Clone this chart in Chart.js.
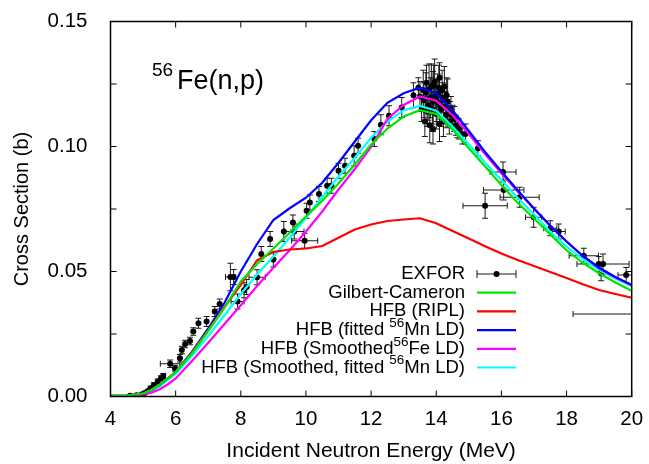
<!DOCTYPE html>
<html>
<head>
<meta charset="utf-8">
<script src="https://cdn.jsdelivr.net/npm/chart.js@4.4.1/dist/chart.umd.min.js"></script>
<style>
  body { margin: 0; background: #fff; }
  #wrap { width: 649px; height: 464px; }
</style>
</head>
<body>
<div id="wrap"><canvas id="chart" width="649" height="464"></canvas></div>
<script>
// model energies (MeV)
const energy = [4, 4.5, 5, 5.25, 5.5, 5.75, 6, 6.5, 7, 7.5, 8, 8.5, 9, 9.5, 10, 10.5, 11, 11.5, 12, 12.5,
  13, 13.5, 14, 14.5, 15, 15.5, 16, 16.5, 17, 17.5, 18, 18.5, 19, 19.5, 20];

// cross sections (b)
const gilbertCameron = [0.0003, 0.0004, 0.0012, 0.0026, 0.0046, 0.0072, 0.0098, 0.0172, 0.0262, 0.0355,
  0.0460, 0.0530, 0.0592, 0.0655, 0.0720, 0.0783, 0.0852, 0.0928, 0.1008, 0.1072,
  0.1120, 0.1145, 0.1130, 0.1068, 0.0993, 0.0920, 0.0846, 0.0775, 0.0712, 0.0648,
  0.0585, 0.0535, 0.0493, 0.0456, 0.0423];
const hfbRipl = [0.0003, 0.0004, 0.0012, 0.0026, 0.0046, 0.0072, 0.0098, 0.0175, 0.0265, 0.0358,
  0.0447, 0.0545, 0.0578, 0.0588, 0.0592, 0.0602, 0.0635, 0.0668, 0.0688, 0.0702,
  0.0708, 0.0713, 0.0693, 0.0662, 0.0632, 0.0601, 0.0572, 0.0546, 0.0522, 0.0498,
  0.0474, 0.0449, 0.0426, 0.0410, 0.0395];
const hfbFittedMn = [0.0003, 0.0004, 0.0012, 0.0026, 0.0046, 0.0072, 0.0098, 0.0178, 0.0272, 0.0375,
  0.0500, 0.0610, 0.0706, 0.0753, 0.0795, 0.0855, 0.0935, 0.1020, 0.1105, 0.1175,
  0.1213, 0.1235, 0.1213, 0.1145, 0.1062, 0.0978, 0.0900, 0.0825, 0.0752, 0.0683,
  0.0620, 0.0562, 0.0515, 0.0478, 0.0446];
const hfbSmoothedFe = [0.0002, 0.0003, 0.0008, 0.0015, 0.0028, 0.0048, 0.0072, 0.0142, 0.0215, 0.0290,
  0.0365, 0.0442, 0.0515, 0.0585, 0.0660, 0.0740, 0.0828, 0.0910, 0.0998, 0.1110,
  0.1166, 0.1200, 0.1183, 0.1125, 0.1050, 0.0970, 0.0893, 0.0820, 0.0752, 0.0683,
  0.0620, 0.0562, 0.0513, 0.0476, 0.0446];
const hfbSmoothedFittedMn = [0.0003, 0.0004, 0.0010, 0.0022, 0.0040, 0.0065, 0.0090, 0.0162, 0.0242, 0.0325,
  0.0410, 0.0488, 0.0560, 0.0635, 0.0715, 0.0798, 0.0880, 0.0955, 0.1035, 0.1100,
  0.1145, 0.1162, 0.1143, 0.1080, 0.1008, 0.0935, 0.0866, 0.0795, 0.0728, 0.0660,
  0.0600, 0.0550, 0.0506, 0.0472, 0.0442];

// EXFOR measurements: energy, cross section, energy error, cross section error
const exforE = [4.6, 4.8, 4.95, 5.05, 5.15, 5.23, 5.33, 5.45, 5.55, 5.62, 5.83, 5.98, 6.13, 6.19, 6.29,
  6.44, 6.54, 6.7, 6.95, 7.2, 7.35, 7.68, 7.78, 7.9, 8.1, 8.18, 8.5, 8.63, 8.9, 9.0,
  9.32, 9.6, 9.64, 9.96, 10.02, 10.12, 10.4, 10.65, 10.78, 11.0, 11.2, 11.48, 11.6, 12.1, 12.3,
  12.55, 12.94, 13.3, 13.45, 13.5, 13.55, 13.6, 13.65, 13.7, 13.75, 13.8, 13.85, 13.9, 13.9, 13.95,
  14.0, 14.05, 14.1, 14.1, 14.15, 14.2, 14.25, 14.3, 14.35, 14.4, 14.45, 14.5, 14.6, 14.7, 14.8,
  13.62, 13.68, 13.72, 13.78, 13.82, 13.88, 13.92, 13.98, 14.02, 14.08, 14.12, 14.18, 14.22, 14.28, 14.32,
  14.42, 14.55, 14.65,
  14.9, 15.28, 15.5, 16.05, 16.07, 16.56, 16.99, 17.5, 17.76, 18.53, 18.99, 19.12, 19.06, 19.83, 21.0];
const exforXS = [0.0003, 0.0005, 0.0008, 0.0014, 0.0022, 0.0033, 0.0045, 0.0060, 0.0073, 0.0082, 0.0131, 0.0113, 0.0153, 0.0186, 0.0210,
  0.0222, 0.0260, 0.0293, 0.0300, 0.0340, 0.0370, 0.0478, 0.0478, 0.0380, 0.0425, 0.0438, 0.0477, 0.0570, 0.0630, 0.0548,
  0.0660, 0.0696, 0.0660, 0.0623, 0.0743, 0.0776, 0.0810, 0.0843, 0.0843, 0.0903, 0.0923, 0.0963, 0.1003, 0.1030, 0.1087,
  0.1123, 0.1156, 0.1205, 0.1235, 0.1200, 0.1150, 0.1225, 0.1100, 0.1255, 0.1165, 0.1085, 0.1240, 0.1180, 0.1070, 0.1260,
  0.1130, 0.1210, 0.1275, 0.1090, 0.1150, 0.1195, 0.1240, 0.1125, 0.1180, 0.1100, 0.1150, 0.1125, 0.1085, 0.1070, 0.1050,
  0.1185, 0.1215, 0.1140, 0.1230, 0.1195, 0.1150, 0.1245, 0.1200, 0.1180, 0.1235, 0.1170, 0.1225, 0.1100, 0.1160, 0.1205,
  0.1130, 0.1110, 0.1075,
  0.1050, 0.0993, 0.0763, 0.0898, 0.0826, 0.0797, 0.0717, 0.0673, 0.0660, 0.0563, 0.0530, 0.0530, 0.0493, 0.0486, 0.0330];
const exforDE = [0, 0, 0, 0, 0, 0, 0, 0, 0, 0, 0.3, 0, 0, 0, 0,
  0, 0, 0, 0, 0, 0, 0.15, 0, 0.2, 0, 0, 0.25, 0, 0, 0,
  0, 0, 0.3, 0.4, 0, 0, 0, 0, 0, 0, 0, 0, 0, 0, 0,
  0, 0, 0, 0, 0, 0, 0, 0, 0, 0, 0, 0, 0, 0, 0,
  0, 0, 0, 0, 0, 0, 0, 0, 0, 0, 0, 0, 0, 0, 0,
  0, 0, 0, 0, 0, 0, 0, 0, 0, 0, 0, 0, 0, 0, 0,
  0, 0, 0,
  0, 0, 0.68, 0.4, 0.62, 0.6, 0.25, 0.2, 0.2, 0.45, 0, 0.8, 0, 0.25, 2.8];
const exforDXS = [0.0003, 0.0003, 0.0004, 0.0005, 0.0006, 0.0008, 0.001, 0.001, 0.001, 0.001, 0.0015, 0.0012, 0.0015, 0.0015, 0.0015,
  0.0015, 0.0015, 0.002, 0.002, 0.002, 0.002, 0.0055, 0.003, 0.003, 0.003, 0.003, 0.003, 0.003, 0.003, 0.003,
  0.004, 0.003, 0.003, 0.003, 0.003, 0.003, 0.003, 0.003, 0.003, 0.003, 0.003, 0.004, 0.003, 0.003, 0.004,
  0.004, 0.004, 0.005, 0.004, 0.006, 0.005, 0.008, 0.006, 0.007, 0.006, 0.007, 0.009, 0.012, 0.006, 0.009,
  0.006, 0.008, 0.006, 0.007, 0.007, 0.006, 0.008, 0.005, 0.009, 0.005, 0.005, 0.004, 0.004, 0.004, 0.004,
  0.007, 0.008, 0.006, 0.010, 0.008, 0.006, 0.008, 0.007, 0.008, 0.009, 0.006, 0.008, 0.006, 0.006, 0.007,
  0.005, 0.005, 0.004,
  0.004, 0.003, 0.005, 0.004, 0.004, 0.004, 0.004, 0.003, 0.003, 0.003, 0.003, 0.004, 0.003, 0.003, 0];

const legendRows = [
  { parts: ['EXFOR'], color: '#000', exfor: true },
  { parts: ['Gilbert-Cameron'], color: '#00e600' },
  { parts: ['HFB (RIPL)'], color: '#ff0000' },
  { parts: ['HFB (fitted ', '^56', 'Mn LD)'], color: '#0000ff' },
  { parts: ['HFB (Smoothed', '^56', 'Fe LD)'], color: '#ff00ff' },
  { parts: ['HFB (Smoothed, fitted ', '^56', 'Mn LD)'], color: '#00ffff' }
];

const FONT = '"Liberation Sans", Arial, sans-serif';

function pts(ys) {
  return energy.map((e, i) => ({ x: e, y: ys[i] }));
}

function line(data, color) {
  return { data: pts(data), borderColor: color, borderWidth: 2.2, pointRadius: 0, tension: 0, fill: false };
}

const errorBars = {
  id: 'errorBars',
  beforeDatasetsDraw(chart) {
    const { ctx, chartArea: a, scales: { x, y } } = chart;
    ctx.save();
    ctx.beginPath();
    ctx.rect(a.left, a.top, a.right - a.left, a.bottom - a.top);
    ctx.clip();
    ctx.strokeStyle = '#1a1a1a';
    ctx.lineWidth = 1;
    ctx.beginPath();
    exforE.forEach((e, i) => {
      const px = x.getPixelForValue(e);
      const py = y.getPixelForValue(exforXS[i]);
      if (exforDE[i] > 0) {
        const x0 = x.getPixelForValue(e - exforDE[i]);
        const x1 = x.getPixelForValue(e + exforDE[i]);
        ctx.moveTo(x0, py); ctx.lineTo(x1, py);
        ctx.moveTo(x0, py - 3); ctx.lineTo(x0, py + 3);
        ctx.moveTo(x1, py - 3); ctx.lineTo(x1, py + 3);
      }
      if (exforDXS[i] > 0) {
        const y0 = y.getPixelForValue(exforXS[i] - exforDXS[i]);
        const y1 = y.getPixelForValue(exforXS[i] + exforDXS[i]);
        ctx.moveTo(px, y0); ctx.lineTo(px, y1);
        ctx.moveTo(px - 3, y0); ctx.lineTo(px + 3, y0);
        ctx.moveTo(px - 3, y1); ctx.lineTo(px + 3, y1);
      }
    });
    ctx.stroke();
    ctx.restore();
  }
};

const frame = {
  id: 'frame',
  afterDraw(chart) {
    const { ctx, chartArea: a, scales: { x, y } } = chart;
    ctx.save();
    ctx.strokeStyle = '#000';
    ctx.lineWidth = 1.5;
    ctx.strokeRect(a.left, a.top, a.right - a.left, a.bottom - a.top);
    ctx.lineWidth = 1;
    ctx.beginPath();
    x.ticks.forEach(t => {
      const px = x.getPixelForValue(t.value);
      ctx.moveTo(px, a.bottom); ctx.lineTo(px, a.bottom - 6);
      ctx.moveTo(px, a.top); ctx.lineTo(px, a.top + 6);
    });
    y.ticks.forEach(t => {
      const py = y.getPixelForValue(t.value);
      ctx.moveTo(a.left, py); ctx.lineTo(a.left + 6, py);
      ctx.moveTo(a.right, py); ctx.lineTo(a.right - 6, py);
    });
    ctx.stroke();

    // reaction label
    ctx.fillStyle = '#000';
    ctx.textBaseline = 'alphabetic';
    ctx.textAlign = 'left';
    ctx.font = '19px ' + FONT;
    ctx.fillText('56', 152, 76);
    ctx.font = '27px ' + FONT;
    ctx.fillText('Fe(n,p)', 177, 89);

    // legend, gnuplot style: right-aligned text, sample on the right
    const textRight = 465, sx0 = 477, sx1 = 516;
    legendRows.forEach((row, i) => {
      const ry = 274 + i * 18.7;
      const widths = row.parts.map(p => {
        ctx.font = (p.startsWith('^') ? '13.5px ' : '18.5px ') + FONT;
        return ctx.measureText(p.replace('^', '')).width;
      });
      let cx = textRight - widths.reduce((s, w) => s + w, 0);
      ctx.textBaseline = 'middle';
      row.parts.forEach((p, k) => {
        const sup = p.startsWith('^');
        ctx.font = (sup ? '13.5px ' : '18.5px ') + FONT;
        ctx.fillText(p.replace('^', ''), cx, sup ? ry - 7 : ry);
        cx += widths[k];
      });
      ctx.beginPath();
      if (row.exfor) {
        ctx.strokeStyle = '#1a1a1a';
        ctx.lineWidth = 1;
        ctx.moveTo(sx0, ry); ctx.lineTo(sx1, ry);
        ctx.moveTo(sx0, ry - 4); ctx.lineTo(sx0, ry + 4);
        ctx.moveTo(sx1, ry - 4); ctx.lineTo(sx1, ry + 4);
        ctx.stroke();
        ctx.beginPath();
        ctx.arc((sx0 + sx1) / 2, ry, 3, 0, Math.PI * 2);
        ctx.fill();
      } else {
        ctx.strokeStyle = row.color;
        ctx.lineWidth = 2.2;
        ctx.moveTo(sx0, ry); ctx.lineTo(sx1, ry);
        ctx.stroke();
      }
    });
    ctx.restore();
  }
};

new Chart(document.getElementById('chart'), {
  type: 'line',
  data: {
    datasets: [
      line(gilbertCameron, '#00e600'),
      line(hfbRipl, '#ff0000'),
      line(hfbFittedMn, '#0000ff'),
      line(hfbSmoothedFe, '#ff00ff'),
      line(hfbSmoothedFittedMn, '#00ffff'),
      {
        data: exforE.map((e, i) => ({ x: e, y: exforXS[i] })),
        showLine: false,
        pointRadius: 3,
        pointBackgroundColor: '#000',
        pointBorderWidth: 0,
        borderColor: '#000'
      }
    ]
  },
  options: {
    responsive: false,
    animation: false,
    events: [],
    layout: { padding: { top: 21.5, right: 17.3, left: 0, bottom: 0 } },
    plugins: { legend: { display: false }, tooltip: { enabled: false } },
    scales: {
      x: {
        type: 'linear', min: 4, max: 20,
        grid: { display: false },
        border: { display: false },
        ticks: { stepSize: 2, color: '#000', padding: 3, font: { family: FONT, size: 20.5 }, autoSkip: false, maxRotation: 0 },
        title: { display: true, text: 'Incident Neutron Energy (MeV)', color: '#000',
          font: { family: FONT, size: 21, lineHeight: 1.2 }, padding: { top: 0, bottom: 0.5 } },
        afterFit(s) { s.height = 67.5; }
      },
      y: {
        type: 'linear', min: 0, max: 0.15,
        grid: { display: false },
        border: { display: false },
        ticks: {
          stepSize: 0.025, color: '#000', padding: 15, autoSkip: false,
          font: { family: FONT, size: 20.5, lineHeight: 0.5 },
          callback: v => Math.abs(v * 20 - Math.round(v * 20)) < 1e-6 ? v.toFixed(2) : ''
        },
        title: { display: true, text: 'Cross Section (b)', color: '#000',
          font: { family: FONT, size: 20, lineHeight: 1.2 }, padding: { top: 10, bottom: 0 } },
        afterFit(s) { s.width = 110.5; }
      }
    }
  },
  plugins: [errorBars, frame]
});
</script>
</body>
</html>
